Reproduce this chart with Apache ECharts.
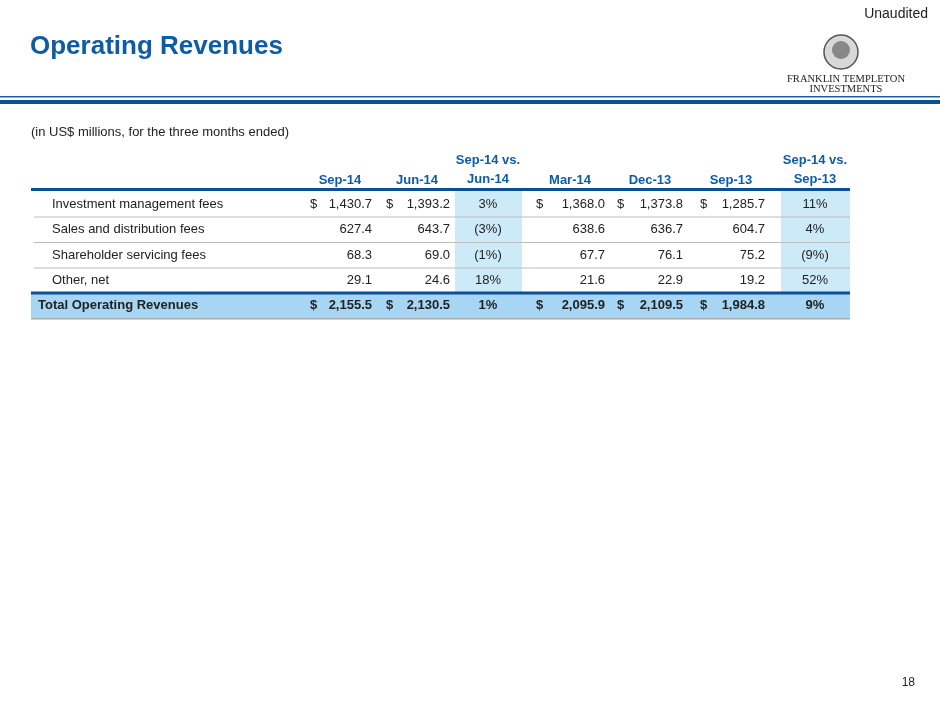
<!DOCTYPE html>
<html><head><meta charset="utf-8">
<script src="https://cdn.jsdelivr.net/npm/echarts@6/dist/echarts.min.js"></script>
<style>html,body{margin:0;padding:0;background:#fff}#c{width:940px;height:705px}</style>
</head><body><div id="c"></div>
<script>
var rowLabels=['Investment management fees','Sales and distribution fees','Shareholder servicing fees','Other, net'];
var totalLabel='Total Operating Revenues';
var colHeaders=['Sep-14','Jun-14','Sep-14 vs.\nJun-14','Mar-14','Dec-13','Sep-13','Sep-14 vs.\nSep-13'];
var sep14=['1,430.7','627.4','68.3','29.1','2,155.5'];
var jun14=['1,393.2','643.7','69.0','24.6','2,130.5'];
var pctQ=['3%','(3%)','(1%)','18%','1%'];
var mar14=['1,368.0','638.6','67.7','21.6','2,095.9'];
var dec13=['1,373.8','636.7','76.1','22.9','2,109.5'];
var sep13=['1,285.7','604.7','75.2','19.2','1,984.8'];
var pctY=['11%','4%','(9%)','52%','9%'];
var dollarRows=[0,4];

var chart=echarts.init(document.getElementById('c'));
var F='Liberation Sans, Arial, sans-serif';
var g=[];
var blue='#0d5ca6';
function t(x,y,s,o){o=o||{};g.push({type:'text',x:x,y:y,style:{text:s,fontFamily:o.ff||F,fontSize:o.fs||13,fontWeight:o.fw||'normal',fill:o.c||'#222',align:o.a||'left',verticalAlign:'middle',lineHeight:o.lh||18},z:10});}
function r(x,y,w,h,c,z){g.push({type:'rect',shape:{x:x,y:y,width:w,height:h},style:{fill:c},z:z||1});}
t(30,47,'Operating Revenues',{fs:26,fw:'bold',c:blue});
t(928,14,'Unaudited',{fs:14,a:'right',c:'#222'});
g.push({type:'circle',shape:{cx:841,cy:52,r:17},style:{fill:'#d8d8d8',stroke:'#555',lineWidth:1.5},z:5});
g.push({type:'circle',shape:{cx:841,cy:50,r:9},style:{fill:'#888'},z:6});
t(846,79,'FRANKLIN TEMPLETON',{fs:10.5,a:'center',ff:'Liberation Serif, serif'});
t(846,89,'INVESTMENTS',{fs:10.5,a:'center',ff:'Liberation Serif, serif'});
r(0,96,940,1.5,'#1a5fa8');r(0,100,940,4,'#0d4f96');
t(31,132,'(in US$ millions, for the three months ended)',{fs:13});
var L=31,R=850,rowY=[204,229,255,280,305];
r(455,191,67,127,'#cdeaf8',1);r(781,191,69,127,'#cdeaf8',1);
r(L,292.5,R-L,26,'#a6d6f4',2);
var hc=[340,417,488,570,650,731,815];
colHeaders.forEach(function(h,i){t(hc[i],h.indexOf('\n')>=0?170:180,h,{fs:13,fw:'bold',c:blue,a:'center',lh:19});});
r(L,188,R-L,3,'#0d4f96',3);
[216.5,242,267.5].forEach(function(y){r(L+3,y,R-L-3,1,'#bdbdbd',3);});
r(L,291.5,R-L,3,'#0d4f96',3);r(L,318,R-L,1.5,'#aaa',3);
var valCols=[[sep14,310,372],[jun14,386,450],[mar14,536,605],[dec13,617,683],[sep13,700,765]];
for(var i=0;i<5;i++){
  var tot=i===4,o={fs:13,fw:tot?'bold':'normal'};
  t(tot?38:52,rowY[i],tot?totalLabel:rowLabels[i],o);
  valCols.forEach(function(c){
    if(dollarRows.indexOf(i)>=0)t(c[1],rowY[i],'$',o);
    t(c[2],rowY[i],c[0][i],{fs:13,fw:o.fw,a:'right'});
  });
  t(488,rowY[i],pctQ[i],{fs:13,fw:o.fw,a:'center'});
  t(815,rowY[i],pctY[i],{fs:13,fw:o.fw,a:'center'});
}
t(915,683,'18',{fs:12,a:'right'});
chart.setOption({animation:false,graphic:g});
</script></body></html>
